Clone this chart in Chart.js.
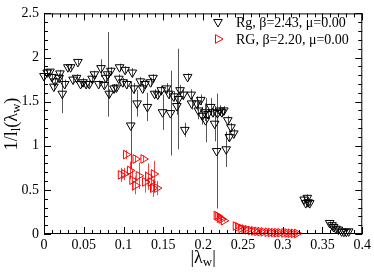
<!DOCTYPE html>
<html>
<head>
<meta charset="utf-8">
<script src="https://cdn.jsdelivr.net/npm/chart.js@4.4.1/dist/chart.umd.min.js"></script>
<style>
  html, body { margin: 0; padding: 0; background: #fff; }
</style>
</head>
<body>
<canvas id="chart" width="374" height="273"></canvas>
<script>
'use strict';

// ===== DONNEES =====
const xTicks = [0, 0.05, 0.1, 0.15, 0.2, 0.25, 0.3, 0.35, 0.4];
const yTicks = [0, 0.5, 1, 1.5, 2, 2.5];

const rgLabel = 'Rg, \u03b2=2.43, \u03bc=0.00';
const rgX = [0.000, 0.004, 0.0075, 0.010, 0.0124, 0.0137, 0.019, 0.020, 0.023, 0.026,
  0.030, 0.0335, 0.0365, 0.041, 0.0426, 0.046, 0.049, 0.053, 0.057, 0.0605,
  0.0634, 0.0687, 0.0717, 0.0758, 0.0779, 0.080, 0.082, 0.084, 0.088, 0.091,
  0.094, 0.095, 0.099, 0.102, 0.104, 0.109, 0.111, 0.113, 0.117, 0.121,
  0.124, 0.127, 0.130, 0.134, 0.137, 0.139, 0.143, 0.1475, 0.149, 0.154,
  0.157, 0.159, 0.163, 0.167, 0.169, 0.171, 0.175, 0.177, 0.1805, 0.185,
  0.1855, 0.192, 0.194, 0.197, 0.199, 0.202, 0.203, 0.206, 0.2095, 0.2125,
  0.2145, 0.217, 0.218, 0.221, 0.2235, 0.226, 0.229, 0.231, 0.233, 0.235,
  0.2385, 0.327, 0.329, 0.331, 0.332, 0.334, 0.359, 0.362, 0.364, 0.367,
  0.370, 0.374, 0.377, 0.380, 0.383];
const rgY = [1.79, 1.83, 1.84, 1.78, 1.67, 1.73, 1.77, 1.82, 1.59, 1.70,
  1.89, 1.89, 1.75, 1.77, 1.95, 1.70, 1.72, 1.70, 1.70, 1.76,
  1.81, 1.70, 1.88, 1.69, 1.77, 1.81, 1.59, 1.85, 1.65, 1.66,
  1.76, 1.89, 1.72, 1.86, 1.70, 1.23, 1.83, 1.65, 1.48, 1.73,
  1.65, 1.70, 1.44, 1.72, 1.77, 1.59, 1.58, 1.63, 1.38, 1.65,
  1.59, 1.37, 1.56, 1.45, 1.53, 1.63, 1.58, 1.18, 1.78, 1.58,
  1.48, 1.48, 1.40, 1.52, 1.34, 1.38, 1.29, 1.36, 1.44, 1.38,
  1.25, 0.94, 1.37, 1.40, 1.38, 1.40, 0.96, 1.29, 1.10, 1.21,
  1.14, 0.39, 0.35, 0.41, 0.36, 0.35, 0.125, 0.10, 0.08, 0.06,
  0.05, 0.03, 0.025, 0.025, 0.03];
const rgErr = [0.04, 0.04, 0.03, 0.04, 0.05, 0.04, 0.05, 0.04, 0.22, 0.05,
  0.03, 0.03, 0.04, 0.04, 0.03, 0.04, 0.05, 0.04, 0.04, 0.05,
  0.04, 0.04, 0.10, 0.04, 0.06, 0.48, 0.05, 0.04, 0.05, 0.04,
  0.05, 0.04, 0.05, 0.04, 0.05, 0.50, 0.05, 0.06, 0.15, 0.05,
  0.05, 0.05, 0.16, 0.05, 0.04, 0.05, 0.05, 0.05, 0.20, 0.06,
  0.06, 0.48, 0.06, 0.10, 0.57, 0.06, 0.06, 0.08, 0.04, 0.06,
  0.07, 0.08, 0.10, 0.06, 0.10, 0.10, 0.25, 0.06, 0.10, 0.05,
  0.20, 0.65, 0.05, 0.06, 0.05, 0.05, 0.20, 0.05, 0.05, 0.05,
  0.05, 0.04, 0.04, 0.04, 0.05, 0.03, 0.02, 0.02, 0.02, 0.02,
  0.01, 0.01, 0.01, 0.01, 0.01];

const rGLabel = 'RG, \u03b2=2.20, \u03bc=0.00';
const rGX = [0.0965, 0.101, 0.103, 0.108, 0.111, 0.115, 0.115, 0.119, 0.125, 0.127,
  0.131, 0.134, 0.138, 0.137, 0.142, 0.217, 0.219, 0.221, 0.223, 0.226,
  0.241, 0.244, 0.248, 0.252, 0.256, 0.260, 0.264, 0.268, 0.272, 0.276,
  0.281, 0.285, 0.289, 0.293, 0.297, 0.302, 0.306, 0.310, 0.314, 0.318];
const rGY = [0.67, 0.68, 0.90, 0.72, 0.61, 0.85, 0.55, 0.66, 0.85, 0.59,
  0.65, 0.59, 0.68, 0.52, 0.52, 0.21, 0.20, 0.18, 0.17, 0.15,
  0.09, 0.08, 0.065, 0.055, 0.048, 0.04, 0.035, 0.03, 0.027, 0.024,
  0.02, 0.018, 0.016, 0.015, 0.014, 0.012, 0.011, 0.009, 0.008, 0.006];
const rGErr = [0.08, 0.07, 0.05, 0.10, 0.12, 0.04, 0.10, 0.15, 0.04, 0.12,
  0.15, 0.10, 0.15, 0.10, 0.08, 0.03, 0.02, 0.02, 0.02, 0.01,
  0.02, 0.02, 0.01, 0.01, 0.01, 0.01, 0.01, 0.01, 0.01, 0.01,
  0.01, 0.01, 0.01, 0.01, 0.01, 0.01, 0.01, 0.01, 0.01, 0.01];

// ===== OUTILS =====
function toPoints(xs, ys, es) {
  return xs.map(function(x, i) { return { x: x, y: ys[i], e: es[i] }; });
}
function fmt(v) {
  return String(Number(v.toFixed(2)));
}

const SERIF = "'Liberation Serif', 'DejaVu Serif', serif";

// texte avec indices
function richWidth(ctx, parts) {
  let w = 0;
  parts.forEach(function(p) {
    ctx.font = (p.sub ? '13px ' : '18px ') + SERIF;
    w += ctx.measureText(p.t).width;
  });
  return w;
}
function drawRich(ctx, parts, cx, cy) {
  let x = cx - richWidth(ctx, parts) / 2;
  parts.forEach(function(p) {
    ctx.font = (p.sub ? '13px ' : '18px ') + SERIF;
    ctx.fillText(p.t, x, cy + (p.sub ? 5 : 0));
    x += ctx.measureText(p.t).width;
  });
}

// ===== BARRES D'ERREUR =====
const errorBars = {
  id: 'errorBars',
  beforeDatasetsDraw(chart) {
    const ctx = chart.ctx;
    const xs = chart.scales.x, ys = chart.scales.y;
    ctx.save();
    ctx.lineWidth = 1;
    chart.data.datasets.forEach(function(ds) {
      ctx.strokeStyle = ds.errColor;
      ds.data.forEach(function(p) {
        const px = Math.round(xs.getPixelForValue(p.x)) + 0.5;
        const top = ys.getPixelForValue(Math.min(p.y + p.e, 2.5));
        const bot = ys.getPixelForValue(Math.max(p.y - p.e, 0));
        ctx.beginPath();
        ctx.moveTo(px, top);
        ctx.lineTo(px, bot);
        ctx.stroke();
      });
    });
    ctx.restore();
  }
};

// ===== CADRE, GRADUATIONS, TITRES, LEGENDE =====
const frame = {
  id: 'frame',
  afterDraw(chart) {
    const ctx = chart.ctx;
    const a = chart.chartArea;
    const xs = chart.scales.x, ys = chart.scales.y;
    ctx.save();
    ctx.strokeStyle = '#000';
    ctx.lineWidth = 1;
    ctx.strokeRect(a.left + 0.5, a.top + 0.5, a.right - a.left - 1, a.bottom - a.top - 1);

    ctx.beginPath();
    for (let i = 0; i <= 40; i++) {
      const px = Math.round(xs.getPixelForValue(i * 0.01)) + 0.5;
      const len = (i % 5 === 0) ? 7 : 4;
      ctx.moveTo(px, a.bottom); ctx.lineTo(px, a.bottom - len);
      ctx.moveTo(px, a.top); ctx.lineTo(px, a.top + len);
    }
    for (let j = 0; j <= 25; j++) {
      const py = Math.round(ys.getPixelForValue(j * 0.1)) + 0.5;
      const len = (j % 5 === 0) ? 7 : 4;
      ctx.moveTo(a.left, py); ctx.lineTo(a.left + len, py);
      ctx.moveTo(a.right, py); ctx.lineTo(a.right - len, py);
    }
    ctx.stroke();

    // titres des axes
    ctx.fillStyle = '#000';
    ctx.textBaseline = 'middle';
    ctx.textAlign = 'left';
    drawRich(ctx, [{ t: '|\u03bb' }, { t: 'w', sub: true }, { t: '|' }], (a.left + a.right) / 2, 258);
    ctx.save();
    ctx.translate(12, 124);
    ctx.rotate(-Math.PI / 2);
    drawRich(ctx, [{ t: '1/l' }, { t: 'l', sub: true }, { t: '(\u03bb' }, { t: 'w', sub: true }, { t: ')' }], 0, 0);
    ctx.restore();

    // legende
    chart.data.datasets.forEach(function(ds, k) {
      const ly = 22 + k * 17;
      ctx.fillStyle = 'rgba(0,0,0,0)';
      ctx.strokeStyle = ds.borderColor;
      ctx.lineWidth = 1;
      Chart.helpers.drawPoint(ctx, {
        pointStyle: 'triangle', radius: 5, rotation: ds.pointRotation,
        borderWidth: 1
      }, 218, ly);
      ctx.fillStyle = '#000';
      ctx.font = '14px ' + SERIF;
      ctx.fillText(ds.label, 236, ly + 1);
    });
    ctx.restore();
  }
};

// ===== GRAPHIQUE =====
const tickFont = { family: SERIF, size: 14 };

new Chart(document.getElementById('chart'), {
  type: 'scatter',
  data: {
    datasets: [{
      label: rgLabel,
      data: toPoints(rgX, rgY, rgErr),
      pointStyle: 'triangle',
      pointRotation: 180,
      pointRadius: 5,
      borderWidth: 1,
      borderColor: '#000',
      backgroundColor: 'rgba(0,0,0,0)',
      errColor: '#555',
      clip: false
    }, {
      label: rGLabel,
      data: toPoints(rGX, rGY, rGErr),
      pointStyle: 'triangle',
      pointRotation: 90,
      pointRadius: 5,
      borderWidth: 1,
      borderColor: '#ff0000',
      backgroundColor: 'rgba(0,0,0,0)',
      errColor: '#ff4040',
      clip: false
    }]
  },
  options: {
    responsive: false,
    animation: false,
    layout: { padding: { top: 6, right: 8, left: 0, bottom: 0 } },
    plugins: { legend: { display: false }, tooltip: { enabled: false } },
    scales: {
      x: {
        type: 'linear', min: 0, max: 0.4,
        afterBuildTicks: function(s) { s.ticks = xTicks.map(function(v) { return { value: v }; }); },
        afterFit: function(s) { s.height = 39; },
        ticks: { font: tickFont, color: '#000', padding: 3, maxRotation: 0, callback: fmt },
        grid: { display: false, drawTicks: false },
        border: { display: false }
      },
      y: {
        type: 'linear', min: 0, max: 2.5,
        afterBuildTicks: function(s) { s.ticks = yTicks.map(function(v) { return { value: v }; }); },
        afterFit: function(s) { s.width = 44; },
        ticks: { font: tickFont, color: '#000', padding: 5, callback: fmt },
        grid: { display: false, drawTicks: false },
        border: { display: false }
      }
    }
  },
  plugins: [errorBars, frame]
});
</script>
</body>
</html>
